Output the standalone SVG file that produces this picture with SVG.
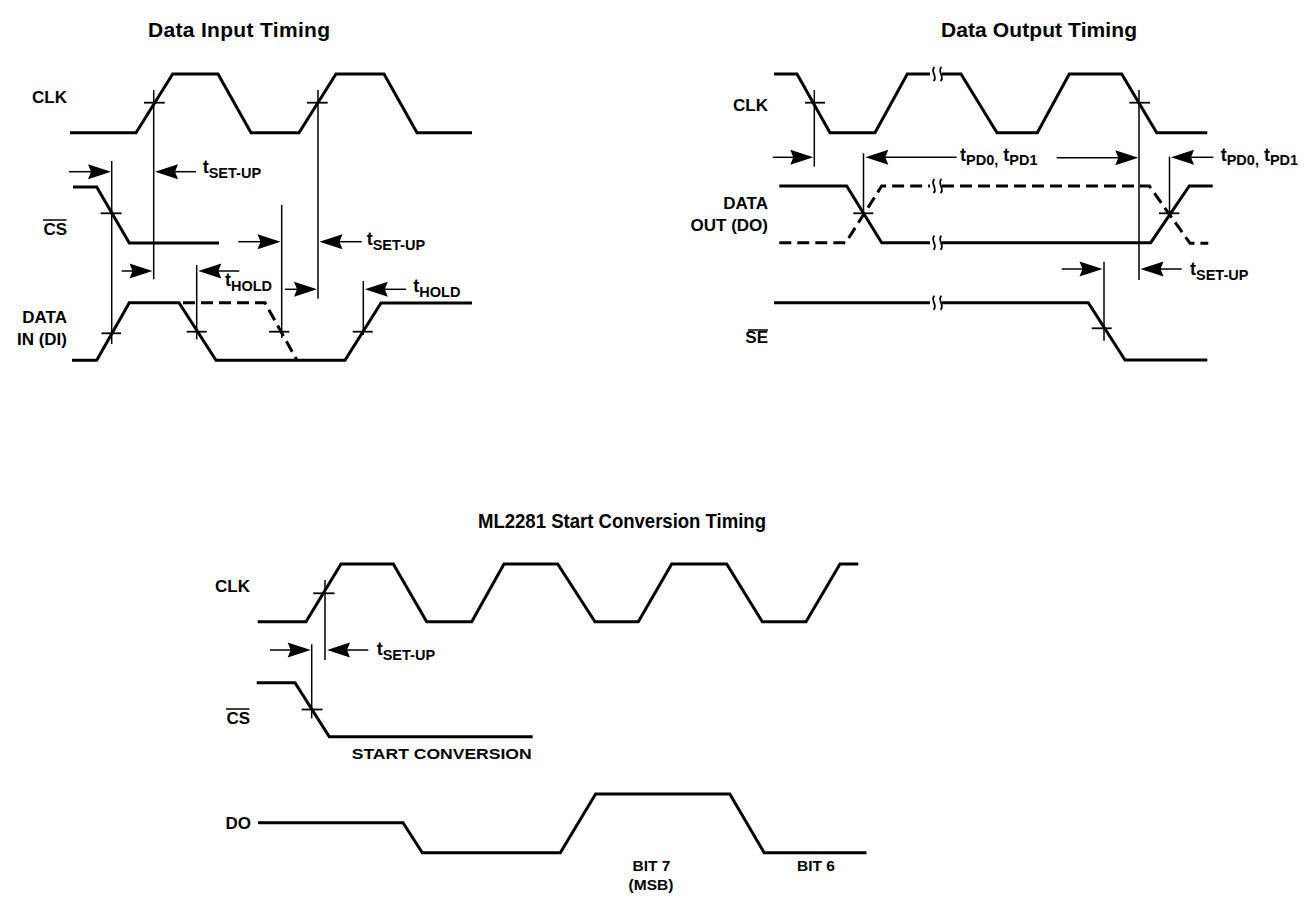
<svg xmlns="http://www.w3.org/2000/svg" xmlns:xlink="http://www.w3.org/1999/xlink" width="1316" height="899" viewBox="0 0 1316 899">
<style>
text{font-family:"Liberation Sans",Arial,sans-serif;font-weight:bold;fill:#000}
.title{font-size:21px}
.lbl{font-size:17px;text-anchor:end}
.small{font-size:15.5px}
.t{font-size:18px}
.sub{font-size:14.5px}
.sig{fill:none;stroke:#000;stroke-width:3;stroke-linejoin:miter}
.dash{fill:none;stroke:#000;stroke-width:3;stroke-dasharray:12 6}
.thin{stroke:#000;stroke-width:1.5;fill:none}
.tick{stroke:#000;stroke-width:1.8}
.shaft{stroke:#000;stroke-width:1.5;fill:none}
.brk{stroke:#000;stroke-width:1.8;fill:none}
.ovl{stroke:#000;stroke-width:1.5}
</style>
<defs>
<path id="ahR" d="M0,0 L-23,-7.5 L-20,0 L-23,7.5 Z" fill="#000"/>
<path id="ahL" d="M0,0 L23,-7.5 L20,0 L23,7.5 Z" fill="#000"/>
</defs>

<!-- Titles -->
<text class="title" x="148" y="37" textLength="182" lengthAdjust="spacing" id="title-in">Data Input Timing</text>
<text class="title" x="941" y="37" textLength="196" lengthAdjust="spacing" id="title-out">Data Output Timing</text>
<text class="title" x="478" y="528" textLength="288" lengthAdjust="spacingAndGlyphs" id="title-start">ML2281 Start Conversion Timing</text>

<!-- ===== Data Input Timing ===== -->
<g id="in-clk">
<text class="lbl" x="67" y="103">CLK</text>
<path class="sig" d="M70,132.7 L136,132.7 L172.7,74 L218,74 L251,132.7 L299,132.7 L336,74 L384,74 L417,132.7 L472,132.7"/>
</g>
<g id="in-cs">
<text class="lbl" x="67" y="235">CS</text>
<line class="ovl" x1="43" y1="220" x2="66.5" y2="220"/>
<path class="sig" d="M73,187 L96.7,187 L129.3,243 L219,243"/>
</g>
<g id="in-di">
<text class="lbl" x="67" y="323">DATA</text>
<text class="lbl" x="67" y="345">IN (DI)</text>
<path class="sig" d="M72,360.3 L96.7,360.3 L129.3,302.7 L179,302.7 L216,360.3 L345,360.3 L381,303 L472,303"/>
<path class="dash" d="M183,302.7 L265,302.7 L297,360.3"/>
</g>

<!-- ===== Data Output Timing ===== -->
<g id="out-clk">
<text class="lbl" x="768" y="110.7">CLK</text>
<path class="sig" d="M774,74 L797,74 L830,132.7 L875,132.7 L907.3,74 L930,74"/>
<path class="sig" d="M942,74 L961,74 L997,132.7 L1037.3,132.7 L1069.3,74 L1121.7,74 L1156.7,132.7 L1207.3,132.7"/>
</g>
<g id="out-do">
<text class="lbl" x="768" y="209.3">DATA</text>
<text class="lbl" x="768" y="230.7">OUT (DO)</text>
<path class="sig" d="M779.3,186 L846.7,186 L881.7,242.7 L930,242.7"/>
<path class="sig" d="M942,242.7 L1150.7,242.7 L1189.3,186 L1212.7,186"/>
<path class="dash" d="M779.3,242.7 L845.7,242.7 L881.7,186 L930,186"/>
<path class="dash" d="M942,186 L1149.3,186 L1190,243.3 L1208.3,243.3"/>
</g>
<g id="out-se">
<text class="lbl" x="768" y="343.3">SE</text>
<line class="ovl" x1="748" y1="330" x2="768" y2="330"/>
<path class="sig" d="M774,302.7 L930,302.7"/>
<path class="sig" d="M942,302.7 L1088.3,302.7 L1125,360 L1207.3,360"/>
</g>

<!-- ===== Start Conversion Timing ===== -->
<g id="sc-clk">
<text class="lbl" x="250" y="592.3">CLK</text>
<path class="sig" d="M257.7,621.7 L306,621.7 L341,564 L393.3,564 L426.7,621.7 L471.7,621.7 L504,564 L557.7,564 L595,621.7 L638.3,621.7 L671.7,564 L726.7,564 L762.3,621.7 L806,621.7 L840,564 L858.3,564"/>
</g>
<g id="sc-cs">
<text class="lbl" x="250" y="724">CS</text>
<line class="ovl" x1="226" y1="709" x2="249.5" y2="709"/>
<path class="sig" d="M256.7,682.7 L295,682.7 L329.3,736.7 L532.7,736.7"/>
<text class="small" x="351.7" y="759.3" textLength="180" lengthAdjust="spacingAndGlyphs">START CONVERSION</text>
</g>
<g id="sc-do">
<text class="lbl" x="251" y="829.3">DO</text>
<path class="sig" d="M258,822.7 L403,822.7 L422.3,852.7 L560.3,852.7 L595.6,794 L729.8,794 L764.2,852.7 L866.5,852.7"/>
<text class="small" x="651.5" y="871" text-anchor="middle">BIT 7</text>
<text class="small" x="651" y="890" text-anchor="middle">(MSB)</text>
<text class="small" x="816" y="871" text-anchor="middle">BIT 6</text>
</g>

<!-- Timing markers, arrows and breaks -->
<g id="connectors">
<line class="thin" x1="111.7" y1="161" x2="111.7" y2="344"/>
<line class="thin" x1="153.7" y1="90" x2="153.7" y2="279.3"/>
<line class="thin" x1="196.7" y1="265" x2="196.7" y2="339.3"/>
<line class="thin" x1="281.7" y1="205" x2="281.7" y2="338"/>
<line class="thin" x1="318" y1="90" x2="318" y2="298.7"/>
<line class="thin" x1="363.3" y1="281" x2="363.3" y2="335"/>
<line class="tick" x1="144" y1="102.7" x2="164.7" y2="102.7"/>
<line class="tick" x1="307" y1="102.7" x2="327.7" y2="102.7"/>
<line class="tick" x1="100.7" y1="213.3" x2="121.5" y2="213.3"/>
<line class="tick" x1="101.5" y1="333.3" x2="121" y2="333.3"/>
<line class="tick" x1="186.7" y1="331.7" x2="206.7" y2="331.7"/>
<line class="tick" x1="269" y1="331.7" x2="289.3" y2="331.7"/>
<line class="tick" x1="352.7" y1="331.7" x2="372.7" y2="331.7"/>

<line class="shaft" x1="69" y1="171.7" x2="100" y2="171.7"/><use xlink:href="#ahR" href="#ahR" x="111" y="171.7"/>
<line class="shaft" x1="196" y1="171.7" x2="166" y2="171.7"/><use xlink:href="#ahL" href="#ahL" x="155" y="171.7"/>
<line class="shaft" x1="121.7" y1="271" x2="142" y2="271"/><use xlink:href="#ahR" href="#ahR" x="152.5" y="271"/>
<line class="shaft" x1="239.3" y1="271" x2="209" y2="271"/><use xlink:href="#ahL" href="#ahL" x="198.3" y="271"/>
<line class="shaft" x1="238.3" y1="241.7" x2="270" y2="241.7"/><use xlink:href="#ahR" href="#ahR" x="280.5" y="241.7"/>
<line class="shaft" x1="361.7" y1="241.7" x2="330" y2="241.7"/><use xlink:href="#ahL" href="#ahL" x="319.5" y="241.7"/>
<line class="shaft" x1="285" y1="289.3" x2="306" y2="289.3"/><use xlink:href="#ahR" href="#ahR" x="317" y="289.3"/>
<line class="shaft" x1="406" y1="289.3" x2="375" y2="289.3"/><use xlink:href="#ahL" href="#ahL" x="364.8" y="289.3"/>

<line class="thin" x1="814.3" y1="90" x2="814.3" y2="166.7"/>
<line class="thin" x1="863.5" y1="153.3" x2="863.5" y2="214"/>
<line class="thin" x1="1139" y1="90" x2="1139" y2="280"/>
<line class="thin" x1="1169.5" y1="156.7" x2="1169.5" y2="214"/>
<line class="thin" x1="1104" y1="261.7" x2="1104" y2="340.7"/>
<line class="tick" x1="805" y1="102.7" x2="825" y2="102.7"/>
<line class="tick" x1="1129.3" y1="102.7" x2="1150" y2="102.7"/>
<line class="tick" x1="853.3" y1="213.3" x2="873.3" y2="213.3"/>
<line class="tick" x1="1159" y1="213.3" x2="1179.3" y2="213.3"/>
<line class="tick" x1="1091.7" y1="328.3" x2="1111.7" y2="328.3"/>

<line class="shaft" x1="772.7" y1="157.3" x2="803" y2="157.3"/><use xlink:href="#ahR" href="#ahR" x="813.3" y="157.3"/>
<line class="shaft" x1="956.7" y1="157.3" x2="876" y2="157.3"/><use xlink:href="#ahL" href="#ahL" x="865.3" y="157.3"/>
<line class="shaft" x1="1056.7" y1="157.7" x2="1128" y2="157.7"/><use xlink:href="#ahR" href="#ahR" x="1138.3" y="157.7"/>
<line class="shaft" x1="1213.3" y1="157.3" x2="1182" y2="157.3"/><use xlink:href="#ahL" href="#ahL" x="1171" y="157.3"/>
<line class="shaft" x1="1061.7" y1="269" x2="1092" y2="269"/><use xlink:href="#ahR" href="#ahR" x="1102.5" y="269"/>
<line class="shaft" x1="1181.7" y1="269" x2="1151" y2="269"/><use xlink:href="#ahL" href="#ahL" x="1140.5" y="269"/>

<path class="brk" d="M934.5,67 C929.5,71 938.5,77 933.5,81 M941.5,67 C936.5,71 945.5,77 940.5,81"/>
<path class="brk" d="M934.5,179 C929.5,183 938.5,189 933.5,193 M941.5,179 C936.5,183 945.5,189 940.5,193"/>
<path class="brk" d="M934.5,235.7 C929.5,239.7 938.5,245.7 933.5,249.7 M941.5,235.7 C936.5,239.7 945.5,245.7 940.5,249.7"/>
<path class="brk" d="M934.5,295.7 C929.5,299.7 938.5,305.7 933.5,309.7 M941.5,295.7 C936.5,299.7 945.5,305.7 940.5,309.7"/>

<line class="thin" x1="325" y1="580" x2="325" y2="660"/>
<line class="thin" x1="311.7" y1="644.3" x2="311.7" y2="718.3"/>
<line class="tick" x1="313.3" y1="593.3" x2="334.5" y2="593.3"/>
<line class="tick" x1="301.7" y1="709.5" x2="322.5" y2="709.5"/>
<line class="shaft" x1="270" y1="650" x2="300" y2="650"/><use xlink:href="#ahR" href="#ahR" x="310.7" y="650"/>
<line class="shaft" x1="368.3" y1="650" x2="338" y2="650"/><use xlink:href="#ahL" href="#ahL" x="327" y="650"/>
</g>

<g id="labels">
<text x="202.7" y="173"><tspan class="t">t</tspan><tspan class="sub" dy="5">SET-UP</tspan></text>
<text x="366.7" y="245"><tspan class="t">t</tspan><tspan class="sub" dy="5">SET-UP</tspan></text>
<text x="225" y="286"><tspan class="t">t</tspan><tspan class="sub" dy="5">HOLD</tspan></text>
<text x="413.3" y="292"><tspan class="t">t</tspan><tspan class="sub" dy="5">HOLD</tspan></text>
<text x="960" y="161"><tspan class="t">t</tspan><tspan class="sub" dy="4">PD0,</tspan><tspan class="t" dy="-4"> t</tspan><tspan class="sub" dy="4">PD1</tspan></text>
<text x="1220.7" y="161"><tspan class="t">t</tspan><tspan class="sub" dy="4">PD0,</tspan><tspan class="t" dy="-4"> t</tspan><tspan class="sub" dy="4">PD1</tspan></text>
<text x="1190" y="275"><tspan class="t">t</tspan><tspan class="sub" dy="5">SET-UP</tspan></text>
<text x="376.7" y="655"><tspan class="t">t</tspan><tspan class="sub" dy="5">SET-UP</tspan></text>
</g>
</svg>
